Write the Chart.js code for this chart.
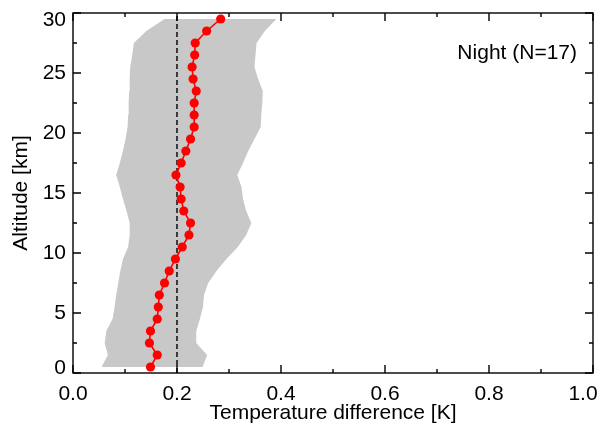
<!DOCTYPE html>
<html>
<head>
<meta charset="utf-8">
<script src="https://cdn.jsdelivr.net/npm/chart.js@4.4.1/dist/chart.umd.min.js"></script>
<style>
  body { margin: 0; background: #fff; }
  #wrap { width: 610px; height: 431px; }
</style>
</head>
<body>
<div id="wrap"><canvas id="profile" width="610" height="431"></canvas></div>
<script>
// altitude levels [km], bottom to top
const altitude = [0.5, 1.5, 2.5, 3.5, 4.5, 5.5, 6.5, 7.5, 8.5, 9.5,
  10.5, 11.5, 12.5, 13.5, 14.5, 15.5, 16.5, 17.5, 18.5, 19.5,
  20.5, 21.5, 22.5, 23.5, 24.5, 25.5, 26.5, 27.5, 28.5, 29.5];

// mean temperature difference [K]
const meanDiff = [0.149, 0.162, 0.147, 0.149, 0.162, 0.164, 0.166, 0.176, 0.185, 0.197,
  0.210, 0.223, 0.226, 0.213, 0.208, 0.206, 0.198, 0.208, 0.217, 0.226,
  0.233, 0.233, 0.233, 0.237, 0.231, 0.229, 0.234, 0.235, 0.257, 0.284];

// spread band, lower and upper edge [K]
const bandLow = [0.055, 0.067, 0.061, 0.064, 0.076, 0.080, 0.083, 0.087, 0.091, 0.096,
  0.106, 0.109, 0.109, 0.103, 0.096, 0.090, 0.083, 0.090, 0.096, 0.101,
  0.105, 0.106, 0.107, 0.108, 0.109, 0.110, 0.114, 0.117, 0.141, 0.176];
const bandHigh = [0.249, 0.258, 0.237, 0.237, 0.244, 0.250, 0.252, 0.260, 0.276, 0.295,
  0.317, 0.333, 0.343, 0.333, 0.327, 0.324, 0.316, 0.327, 0.337, 0.349,
  0.361, 0.362, 0.364, 0.365, 0.356, 0.349, 0.351, 0.353, 0.369, 0.391];

// reference line
const refValue = 0.2;
const refAltitudes = [0, 30];

const xTickValues = [0.0, 0.2, 0.4, 0.6, 0.8, 1.0];
const yTickValues = [0, 5, 10, 15, 20, 25, 30];
const panelLabel = 'Night (N=17)';

const FONT = '"Liberation Sans", Arial, Helvetica, sans-serif';

// band polygon: up the left edge, back down the right edge
const bandPoints = altitude.map((a, i) => ({ x: bandLow[i], y: a }))
  .concat(altitude.map((a, i) => ({ x: bandHigh[i], y: a })).reverse());

// IDL style box, inward ticks, tick labels
const idlAxes = {
  id: 'idlAxes',
  afterDatasetsDraw(chart) {
    const { ctx, chartArea: a, scales: { x, y } } = chart;
    ctx.save();
    ctx.strokeStyle = '#000';
    ctx.lineWidth = 1.4;
    ctx.strokeRect(a.left, a.top, a.right - a.left, a.bottom - a.top);

    ctx.beginPath();
    x.ticks.forEach((t, i) => {
      const px = x.getPixelForValue(t.value);
      ctx.moveTo(px, a.bottom); ctx.lineTo(px, a.bottom - 8);
      ctx.moveTo(px, a.top); ctx.lineTo(px, a.top + 8);
      if (i < x.ticks.length - 1) {
        const pm = x.getPixelForValue((t.value + x.ticks[i + 1].value) / 2);
        ctx.moveTo(pm, a.bottom); ctx.lineTo(pm, a.bottom - 4);
        ctx.moveTo(pm, a.top); ctx.lineTo(pm, a.top + 4);
      }
    });
    y.ticks.forEach((t, i) => {
      const py = y.getPixelForValue(t.value);
      ctx.moveTo(a.left, py); ctx.lineTo(a.left + 8, py);
      ctx.moveTo(a.right, py); ctx.lineTo(a.right - 8, py);
      if (i < y.ticks.length - 1) {
        const pm = y.getPixelForValue((t.value + y.ticks[i + 1].value) / 2);
        ctx.moveTo(a.left, pm); ctx.lineTo(a.left + 4, pm);
        ctx.moveTo(a.right, pm); ctx.lineTo(a.right - 4, pm);
      }
    });
    ctx.stroke();

    ctx.fillStyle = '#000';
    ctx.font = '21px ' + FONT;
    ctx.textBaseline = 'middle';
    ctx.textAlign = 'center';
    x.ticks.forEach((t, i) => {
      let px = x.getPixelForValue(t.value);
      if (i === x.ticks.length - 1) px -= 10;
      ctx.fillText(t.value.toFixed(1), px, a.bottom + 21);
    });
    ctx.textAlign = 'right';
    y.ticks.forEach((t, i) => {
      let py = y.getPixelForValue(t.value);
      if (i === 0) py -= 5;
      if (i === y.ticks.length - 1) py += 7;
      ctx.fillText(String(t.value), a.left - 7, py);
    });

    ctx.fillText(panelLabel, a.right - 16, a.top + 40);
    ctx.restore();
  }
};

new Chart(document.getElementById('profile'), {
  type: 'line',
  data: {
    datasets: [
      {
        label: 'Mean',
        data: altitude.map((a, i) => ({ x: meanDiff[i], y: a })),
        borderColor: '#ff0000',
        backgroundColor: '#ff0000',
        borderWidth: 1.6,
        pointRadius: 4.6,
        pointBorderWidth: 0,
        pointBackgroundColor: '#ff0000',
        tension: 0,
        fill: false,
        order: 1
      },
      {
        label: 'Reference',
        data: refAltitudes.map(a => ({ x: refValue, y: a })),
        borderColor: '#000',
        borderWidth: 1.4,
        borderDash: [5, 3],
        pointRadius: 0,
        fill: false,
        order: 2
      },
      {
        label: 'Spread',
        data: bandPoints,
        borderWidth: 0,
        borderColor: 'rgba(0,0,0,0)',
        backgroundColor: '#c8c8c8',
        pointRadius: 0,
        tension: 0,
        fill: 'shape',
        order: 3
      }
    ]
  },
  options: {
    responsive: false,
    animation: false,
    layout: { padding: { left: 0, top: 13, right: 17, bottom: 0 } },
    plugins: {
      legend: { display: false },
      tooltip: { enabled: false }
    },
    scales: {
      x: {
        type: 'linear',
        min: 0,
        max: 1,
        afterBuildTicks: s => { s.ticks = xTickValues.map(v => ({ value: v })); },
        afterFit: s => { s.height = 58; },
        ticks: { display: false },
        grid: { display: false },
        border: { display: false },
        title: {
          display: true,
          text: 'Temperature difference [K]',
          color: '#000',
          font: { family: FONT, size: 21 },
          padding: { top: 0, bottom: 5 }
        }
      },
      y: {
        type: 'linear',
        min: 0,
        max: 30,
        afterBuildTicks: s => { s.ticks = yTickValues.map(v => ({ value: v })); },
        afterFit: s => { s.width = 73; },
        ticks: { display: false },
        grid: { display: false },
        border: { display: false },
        title: {
          display: true,
          text: 'Altitude [km]',
          color: '#000',
          font: { family: FONT, size: 21 },
          padding: { top: 9, bottom: 0 }
        }
      }
    }
  },
  plugins: [idlAxes]
});
</script>
</body>
</html>
